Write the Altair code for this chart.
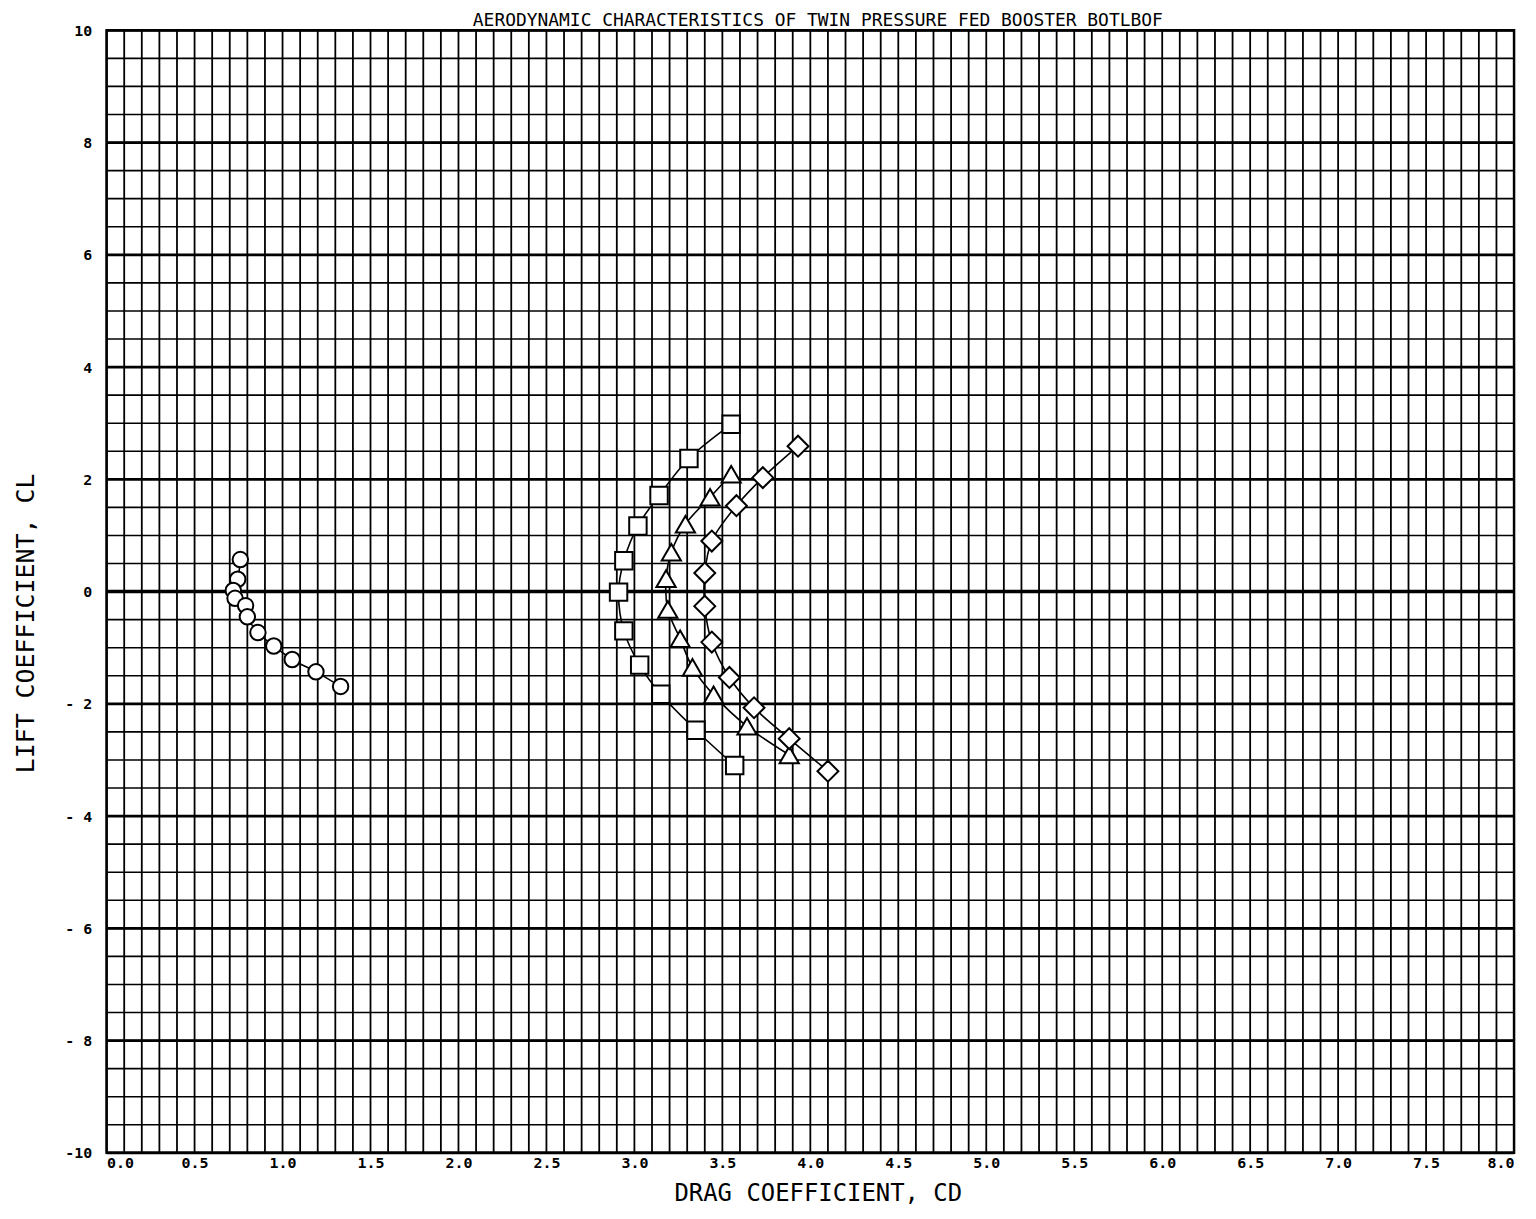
import altair as alt
import numpy as np
import pandas as pd

TITLE = "AERODYNAMIC CHARACTERISTICS OF TWIN PRESSURE FED BOOSTER BOTLBOF"
X_TITLE = "DRAG COEFFICIENT, CD"
Y_TITLE = "LIFT COEFFICIENT, CL"

# Series A (octagon / circle markers)
a_cd = [0.76, 0.745, 0.72, 0.73, 0.79, 0.80, 0.86, 0.95, 1.055, 1.19, 1.33]
a_cl = [0.57, 0.22, 0.02, -0.12, -0.25, -0.45, -0.73, -0.97, -1.21, -1.43, -1.69]
# Series B (squares)
b_cd = [3.55, 3.31, 3.14, 3.02, 2.94, 2.91, 2.94, 3.03, 3.15, 3.35, 3.57]
b_cl = [2.98, 2.37, 1.71, 1.17, 0.55, -0.01, -0.70, -1.31, -1.83, -2.47, -3.10]
# Series C (triangles)
c_cd = [3.55, 3.43, 3.29, 3.21, 3.18, 3.19, 3.26, 3.33, 3.45, 3.64, 3.88]
c_cl = [2.09, 1.68, 1.20, 0.70, 0.23, -0.32, -0.84, -1.35, -1.84, -2.40, -2.91]
# Series D (diamonds)
d_cd = [3.93, 3.73, 3.58, 3.44, 3.40, 3.40, 3.44, 3.54, 3.68, 3.88, 4.10]
d_cl = [2.59, 2.03, 1.53, 0.90, 0.33, -0.26, -0.90, -1.53, -2.07, -2.62, -3.20]

series = [("A", a_cd, a_cl), ("B", b_cd, b_cl), ("C", c_cd, c_cl), ("D", d_cd, d_cl)]
rows = []
for name, xs_, ys_ in series:
    for i, (x, y) in enumerate(zip(xs_, ys_)):
        rows.append({"series": name, "idx": i, "cd": x, "cl": y})
df = pd.DataFrame(rows)

X_DOM = [0, 8]
Y_DOM = [-10, 10]
x_ticks = [round(v * 0.5, 1) for v in range(17)]
y_ticks = list(range(-10, 11, 2))

xs = alt.Scale(domain=X_DOM, nice=False, zero=False)
ys = alt.Scale(domain=Y_DOM, nice=False, zero=False)

FONT = "DejaVu Sans Mono"

vgrid = pd.DataFrame({"x": np.round(np.arange(0, 8.0001, 0.1), 2)})
hgrid = pd.DataFrame({"y": np.round(np.arange(-10, 10.0001, 0.5), 2)})
hmajor = pd.DataFrame({"y": [v for v in y_ticks if v != 0]})
hzero = pd.DataFrame({"y": [0]})

vlines = alt.Chart(vgrid).mark_rule(color="black", strokeWidth=1.8).encode(
    x=alt.X("x:Q", scale=xs, axis=alt.Axis(
        values=x_ticks, format=".1f", title=X_TITLE, grid=False, ticks=False, domain=False,
        labelFont=FONT, labelFontWeight="bold", labelFontSize=15, labelColor="black",
        labelPadding=3, labelBaseline="top",
        titleFont=FONT, titleFontSize=24, titleFontWeight="normal", titleColor="black",
        titleBaseline="alphabetic", titleY=48, titleX=714)))
hlines = alt.Chart(hgrid).mark_rule(color="black", strokeWidth=1.6).encode(
    y=alt.Y("y:Q", scale=ys, axis=alt.Axis(
        values=y_ticks, title=Y_TITLE, grid=False, ticks=False, domain=False,
        labelExpr="datum.value <= -10 ? '-10' : (datum.value < 0 ? '- ' + (-datum.value) : '' + datum.value)",
        labelFont=FONT, labelFontWeight="bold", labelFontSize=15, labelColor="black",
        labelPadding=15,
        titleFont=FONT, titleFontSize=25, titleFontWeight="normal", titleColor="black",
        titleX=-68, titleY=595, titleBaseline="bottom")))
hmaj = alt.Chart(hmajor).mark_rule(color="black", strokeWidth=2.8).encode(y=alt.Y("y:Q", scale=ys))
hz = alt.Chart(hzero).mark_rule(color="black", strokeWidth=3.6).encode(y=alt.Y("y:Q", scale=ys))

base = alt.Chart(df)
lines = base.mark_line(color="black", strokeWidth=1.6, interpolate="catmull-rom").encode(
    x=alt.X("cd:Q", scale=xs), y=alt.Y("cl:Q", scale=ys), detail="series:N", order="idx:Q")
points = base.mark_point(filled=True, fill="white", stroke="black", strokeWidth=2, opacity=1).encode(
    x=alt.X("cd:Q", scale=xs), y=alt.Y("cl:Q", scale=ys),
    shape=alt.Shape("series:N", scale=alt.Scale(domain=["A", "B", "C", "D"],
                                                range=["circle", "square", "triangle-up", "diamond"]), legend=None),
    size=alt.Size("series:N", scale=alt.Scale(domain=["A", "B", "C", "D"], range=[240, 440, 340, 460]), legend=None))

title = alt.Chart(pd.DataFrame({"t": [TITLE]})).mark_text(
    font=FONT, fontSize=18, color="black", align="center", baseline="alphabetic").encode(
    x=alt.value(714), y=alt.value(-4), text="t:N")

chart = alt.layer(vlines, hlines, hmaj, hz, lines, points, title).properties(
    width=1413, height=1127, autosize="none",
    padding={"left": 99, "top": 20, "right": 14, "bottom": 56},
    background="white",
).configure_view(stroke="black", strokeWidth=2.5)

chart.save("out.html", embed_options={"renderer": "svg", "actions": False})
